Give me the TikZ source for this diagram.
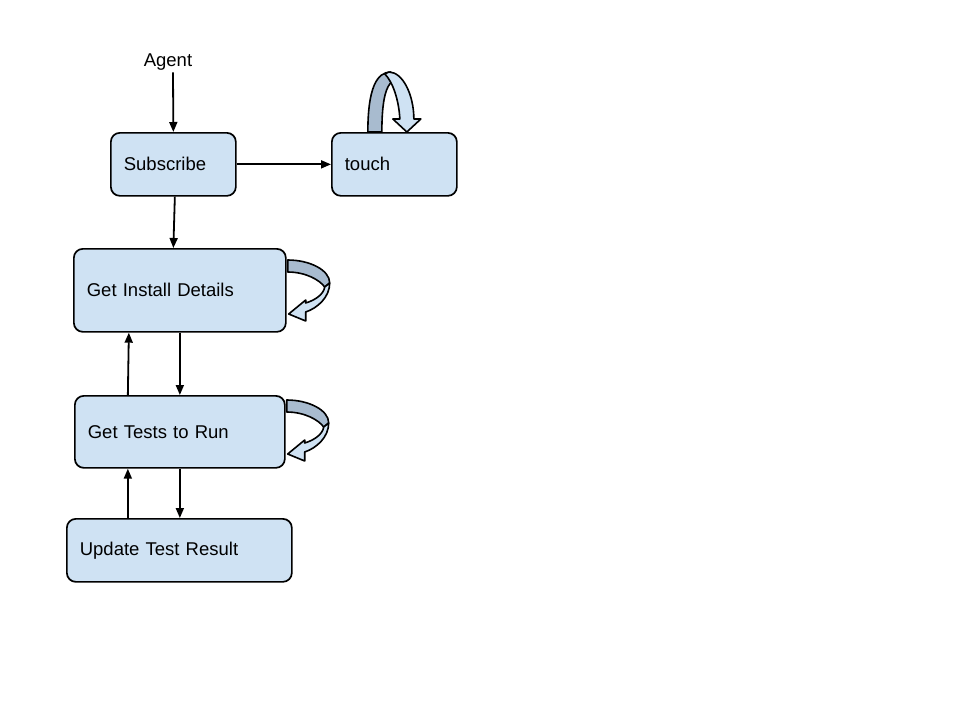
\documentclass[tikz,border=0pt]{standalone}
\usepackage{fontspec}
\setmainfont{Liberation Sans}
\usetikzlibrary{arrows.meta,calc}
\definecolor{boxfill}{RGB}{207,226,243}
\definecolor{backband}{RGB}{168,187,207}
\begin{document}
\begin{tikzpicture}[x=1pt,y=-1pt,
  box/.style={draw=black,fill=boxfill,line width=1.7pt,rounded corners=9pt,
    inner xsep=13pt,inner ysep=0pt,align=left,anchor=north west,font=\fontsize{18.5}{22}\selectfont},
  arr/.style={line width=1.8pt,-{Triangle[length=10pt,width=8pt]}},
  back/.style={draw=black,fill=backband,line width=1.6pt,line join=round},
  front/.style={draw=black,fill=boxfill,line width=1.6pt,line join=round}]
\useasboundingbox (0,0) rectangle (960,720);
\node[font=\fontsize{18.5}{22}\selectfont,inner sep=2pt] (agent) at (168,62) {Agent};
\node[box,text width=99pt,minimum height=63pt] (sub) at (110,132) {Subscribe};
\node[box,text width=99pt,minimum height=63pt] (touch) at (331,132) {touch};
\node[box,text width=186pt,minimum height=83pt] (inst) at (73,248) {Get Install Details};
\node[box,text width=184pt,minimum height=72pt] (tests) at (74,395) {Get Tests to Run};
\node[box,text width=199pt,minimum height=63pt] (upd) at (66,518) {Update Test Result};
% connectors
\draw[arr] ([xshift=5pt]agent.south) -- (sub.north);
\draw[arr] (sub.east) -- (touch.west);
\draw[arr] ([xshift=1.5pt]sub.south) -- (sub.south |- inst.north);
\draw[arr] (inst.south) -- (tests.north);
\draw[arr] ([xshift=-52pt]tests.north) -- ([xshift=-51pt]inst.south);
\draw[arr] (tests.south) -- (tests.south |- upd.north);
\draw[arr] ([xshift=-52pt]tests.south |- upd.north) -- ([xshift=-52pt]tests.south);
% self loop on touch
\begin{scope}[shift={(touch.north)}]
  \draw[back] (-26.5,0) .. controls (-26.5,-44) and (-17.5,-60) .. (-3.5,-60) -- (-1.5,-52) -- (-4.5,-48) .. controls (-9.5,-42) and (-12.5,-27) .. (-12.5,0) -- cycle;
  \draw[front] (-9.5,-58) -- (-5.5,-60) .. controls (8.5,-60) and (19.5,-37) .. (19.5,-13) -- (26.5,-13) -- (12.5,0) -- (-1.5,-13) -- (5.5,-13) .. controls (4.5,-32) and (-1.5,-50) .. (-9.5,-58) -- cycle;
\end{scope}
% self loops on the side
\foreach \nd/\dy in {inst/-12pt,tests/-5pt}{
\begin{scope}[shift={([yshift=\dy,xshift=1pt]\nd.north east)}]
  \draw[back] (0,0) .. controls (22,0) and (42,10) .. (42,23) -- (37,27) .. controls (32,20) and (18,12) .. (0,12) -- cycle;
  \draw[front] (42,23) .. controls (42,37) and (30,48) .. (18,52) -- (18,61) -- (1,54) -- (18,40) -- (18,43) .. controls (28,40) and (36,34) .. (37,27) -- cycle;
\end{scope}}
\end{tikzpicture}
\end{document}
